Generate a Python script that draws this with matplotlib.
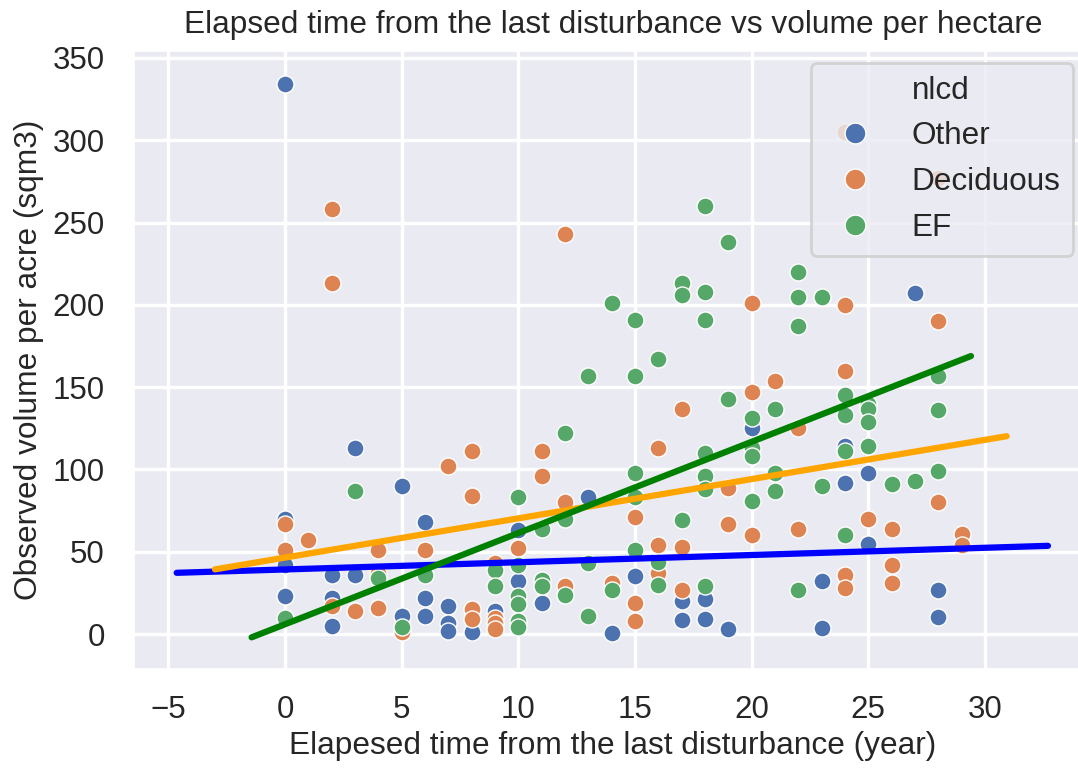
import matplotlib
matplotlib.use("Agg")
import matplotlib.pyplot as plt
from matplotlib.lines import Line2D
import seaborn as sns

# observed volume per site, by land cover class
other_x = [0, 0, 0, 0, 2, 2, 2, 3, 3, 5, 5, 6, 6, 6, 7, 7, 7, 8, 9, 10, 10, 11, 13, 14,
           15, 17, 17, 18, 18, 19, 20, 23, 23, 24, 24, 25, 25, 27, 28, 28]
other_y = [334, 70, 42, 23, 36, 22, 5, 113, 36, 90, 11, 68, 22, 11, 17, 7, 2, 1, 14, 63, 32, 19, 83, 0.5,
           35, 20, 8.5, 21, 9, 3, 125, 32, 3.5, 114, 92, 98, 55, 207, 27, 10.5]

decid_x = [0, 0, 1, 2, 2, 2, 3, 4, 4, 4, 5, 6, 7, 8, 8, 8, 8, 9, 9, 9, 9, 10, 11, 11,
           12, 12, 12, 14, 15, 15, 15, 16, 16, 16, 17, 17, 17, 19, 19, 20, 20, 20, 21,
           22, 22, 24, 24, 24, 24, 24, 25, 26, 26, 26, 28, 28, 28, 29, 29]
decid_y = [67, 51, 57, 258, 213, 17, 14, 51, 37, 16, 1, 51, 102, 111, 84, 15, 9, 43, 10, 7, 3, 52, 111, 96,
           243, 80, 29, 31, 71, 19, 8, 113, 54, 37, 137, 53, 27, 89, 67, 201, 147, 60, 154,
           125, 64, 305, 200, 160, 36, 28, 70, 64, 42, 31, 277, 190, 80, 61, 54]

ef_x = [0, 3, 4, 5, 6, 9, 9, 10, 10, 10, 10, 10, 10, 11, 11, 11, 12, 12, 12, 13, 13, 13,
        14, 14, 15, 15, 15, 15, 15, 16, 16, 16, 17, 17, 17, 18, 18, 18, 18, 18, 18, 18,
        19, 19, 20, 20, 20, 20, 21, 21, 21, 22, 22, 22, 22, 23, 23, 24, 24, 24, 24,
        25, 25, 25, 25, 26, 27, 28, 28, 28]
ef_y = [10, 87, 34, 4, 36, 39, 29, 83, 42, 23, 18, 8, 4.5, 64, 33, 29, 122, 70, 24, 157, 43, 11,
        201, 27, 191, 157, 98, 83, 51, 167, 44, 30, 213, 206, 69, 260, 208, 191, 110, 96, 88, 29,
        238, 143, 131, 113, 108, 81, 137, 98, 87, 220, 205, 187, 27, 205, 90, 145, 133, 111, 60,
        140, 137, 129, 114, 91, 93, 157, 136, 99]

# linear fits: slope, intercept, x start, x end
fit_other = (0.439, 39.24, -4.64, 32.7)
fit_decid = (2.384, 46.45, -3.0, 30.93)
fit_ef = (5.543, 5.93, -1.43, 29.4)

sns.set_theme(style="darkgrid")
plt.rcParams["font.family"] = ["Liberation Sans", "DejaVu Sans"]
plt.rcParams["grid.linewidth"] = 2.4
text_col = "0.15"

fig = plt.figure(figsize=(10.78, 7.69), dpi=100)
ax = fig.add_axes([0.1243, 0.1304, 0.8883, 0.8037])

palette = sns.color_palette("deep")
groups = [("Other", other_x, other_y, palette[0]),
          ("Deciduous", decid_x, decid_y, palette[1]),
          ("EF", ef_x, ef_y, palette[2])]
for name, xs, ys, col in groups:
    ax.scatter(xs, ys, s=150, color=col, edgecolor="white", linewidth=1.0, zorder=3)

for (k, b, x0, x1), col in zip([fit_other, fit_decid, fit_ef], ["blue", "orange", "green"]):
    ax.plot([x0, x1], [k * x0 + b, k * x1 + b], color=col, lw=4.5,
            solid_capstyle="round", zorder=4)

ax.set_xlim(-6.47, 34.57)
ax.set_ylim(-21.06, 354.4)
ax.set_xticks(range(-5, 31, 5))
ax.set_yticks(range(0, 351, 50))
ax.tick_params(axis="both", length=0, labelsize=22.5, labelcolor=text_col)
ax.tick_params(axis="y", pad=21)
ax.tick_params(axis="x", pad=19)

ax.set_title("Elapsed time from the last disturbance vs volume per hectare",
             fontsize=22.8, color=text_col, pad=13)
ax.set_xlabel("Elapesed time from the last disturbance (year)", fontsize=22.8,
              color=text_col, labelpad=4)
ax.set_ylabel("Observed volume per acre (sqm3)", fontsize=22.8, color=text_col, labelpad=6)

handles = [Line2D([], [], linestyle="", marker="")]
labels = ["nlcd"]
for name, xs, ys, col in groups:
    handles.append(Line2D([], [], linestyle="", marker="o", markersize=15,
                          markerfacecolor=col, markeredgecolor="white", markeredgewidth=1.0))
    labels.append(name)
leg = ax.legend(handles, labels, loc="upper right", fontsize=22.7,
                bbox_to_anchor=(1073 / 1078, 1 - 63 / 769), bbox_transform=fig.transFigure,
                borderaxespad=0, frameon=True)
leg.get_frame().set_linewidth(2)
for t in leg.get_texts():
    t.set_color(text_col)

fig.savefig("out.png", dpi=100)
